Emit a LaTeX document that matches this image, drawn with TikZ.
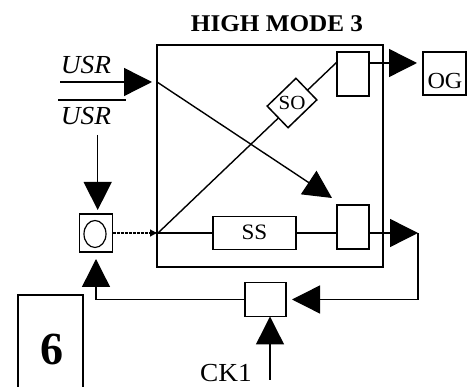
\documentclass[tikz,border=0pt]{standalone}
\usepackage{fontspec}
\setmainfont{Liberation Serif}
\newfontfamily\lbl[FakeStretch=1.05]{Liberation Serif}
\usetikzlibrary{arrows.meta,shapes.geometric}
\begin{document}
\begin{tikzpicture}[x=1pt,y=-1pt,
  box/.style={draw, line width=1.5pt, inner sep=0pt, outer sep=0pt},
  con/.style={line width=1.4pt},
  bigarrow/.style={con, -{Triangle[length=28pt,width=28pt]}},
  txt/.style={inner sep=0pt, outer sep=0pt, font=\lbl\fontsize{26}{26}\selectfont},
  dotcon/.style={line width=2.4pt, dash pattern=on 3pt off 1pt, -{Latex[length=8pt,width=8pt]}}
]
\useasboundingbox (0,0) rectangle (467,387);

% title
\node[txt, font=\lbl\bfseries\fontsize{24}{24}\selectfont] (title) at (277,24) {HIGH MODE 3};

% main box
\node[box, minimum width=226pt, minimum height=222pt] (big) at (270,156) {};

% inner boxes
\node[box, minimum width=32pt, minimum height=44pt] (tR) at (353,74) {};
\node[box, minimum width=32pt, minimum height=44pt] (bR) at (353,227) {};
\node[box, minimum width=83pt, minimum height=33pt] (ss) at (254.5,233) {};
\node[txt, font=\lbl\fontsize{22}{22}\selectfont] (sstxt) at (254.5,232) {SS};

% OG box
\node[box, minimum width=43pt, minimum height=43pt] (og) at (444.5,73.5) {};
\node[txt, font=\lbl\fontsize{23}{23}\selectfont] (ogtxt) at (445,81) {OG};

% oscillator box
\node[box, minimum width=33pt, minimum height=38pt] (osc) at (96,233) {};
\node[draw, line width=1.2pt, ellipse, minimum width=22pt, minimum height=27pt, inner sep=0pt] (oscel) at (95,234) {};

% clock box
\node[box, minimum width=41pt, minimum height=34pt] (ck) at (265.5,299.5) {};

% labels
\node[txt, font=\lbl\itshape\fontsize{26}{26}\selectfont] (usr1) at (86,65.5) {USR};
\node[txt, font=\lbl\itshape\fontsize{26}{26}\selectfont] (usr2) at (86,116.5) {USR};
\node[txt] (ck1) at (226,373.5) {CK1};
\node[inner sep=0pt, font=\bfseries\fontsize{46}{46}\selectfont] (six) at (52.5,349) {6};

% box 6 (open at bottom)
\draw[line width=1.5pt] (18,387) -- (18,295) -- (83,295) -- (83,387);

% overline of second USR
\draw[con] (58,100) -- (126,100);

% coordinates
\coordinate (usrL) at (60,82);
\coordinate (usrD) at (97.7,135);
\coordinate (j) at (158,233);
\coordinate (xend) at (332,198);
\coordinate (soend) at (337,62);
\coordinate (rt) at (418,233);
\coordinate (ckin) at (270,380);

% USR input arrow
\draw[bigarrow, shorten >=5pt] (usrL) -- (usrL -| big.west);
% crossing line
\draw[bigarrow] (usrL -| big.west) -- (xend);
% USR-bar down arrow
\draw[bigarrow, shorten >=4pt] (usrD) -- (usrD |- osc.north);

% dotted connection to junction
\draw[dotcon] (osc.east) -- (j);

% SO line and diamond
\draw[con] (j) -- (soend);
\node[box, fill=white, minimum width=40pt, minimum height=30pt, rotate=44] (so) at (292,103) {};
\node[txt, font=\lbl\fontsize{20}{20}\selectfont] (sotxt) at (292,103) {SO};

% lower path
\draw[con] (j) -- (ss.west);
\draw[con] (ss.east) -- (ss.east -| bR.west);
\draw[bigarrow] (ss.east -| bR.east) -- (rt);
\draw[bigarrow, shorten >=6pt] (rt) |- (ck.east);
\draw[bigarrow, shorten >=7pt] (ck.west) -| (osc.south);

% clock input
\draw[bigarrow] (ckin) -- (ckin |- ck.south);

% output to OG
\path ([yshift=11pt]tR.east) coordinate (tRo);
\draw[bigarrow, shorten >=6pt] (tRo) -- (tRo -| og.west);
\end{tikzpicture}
\end{document}
